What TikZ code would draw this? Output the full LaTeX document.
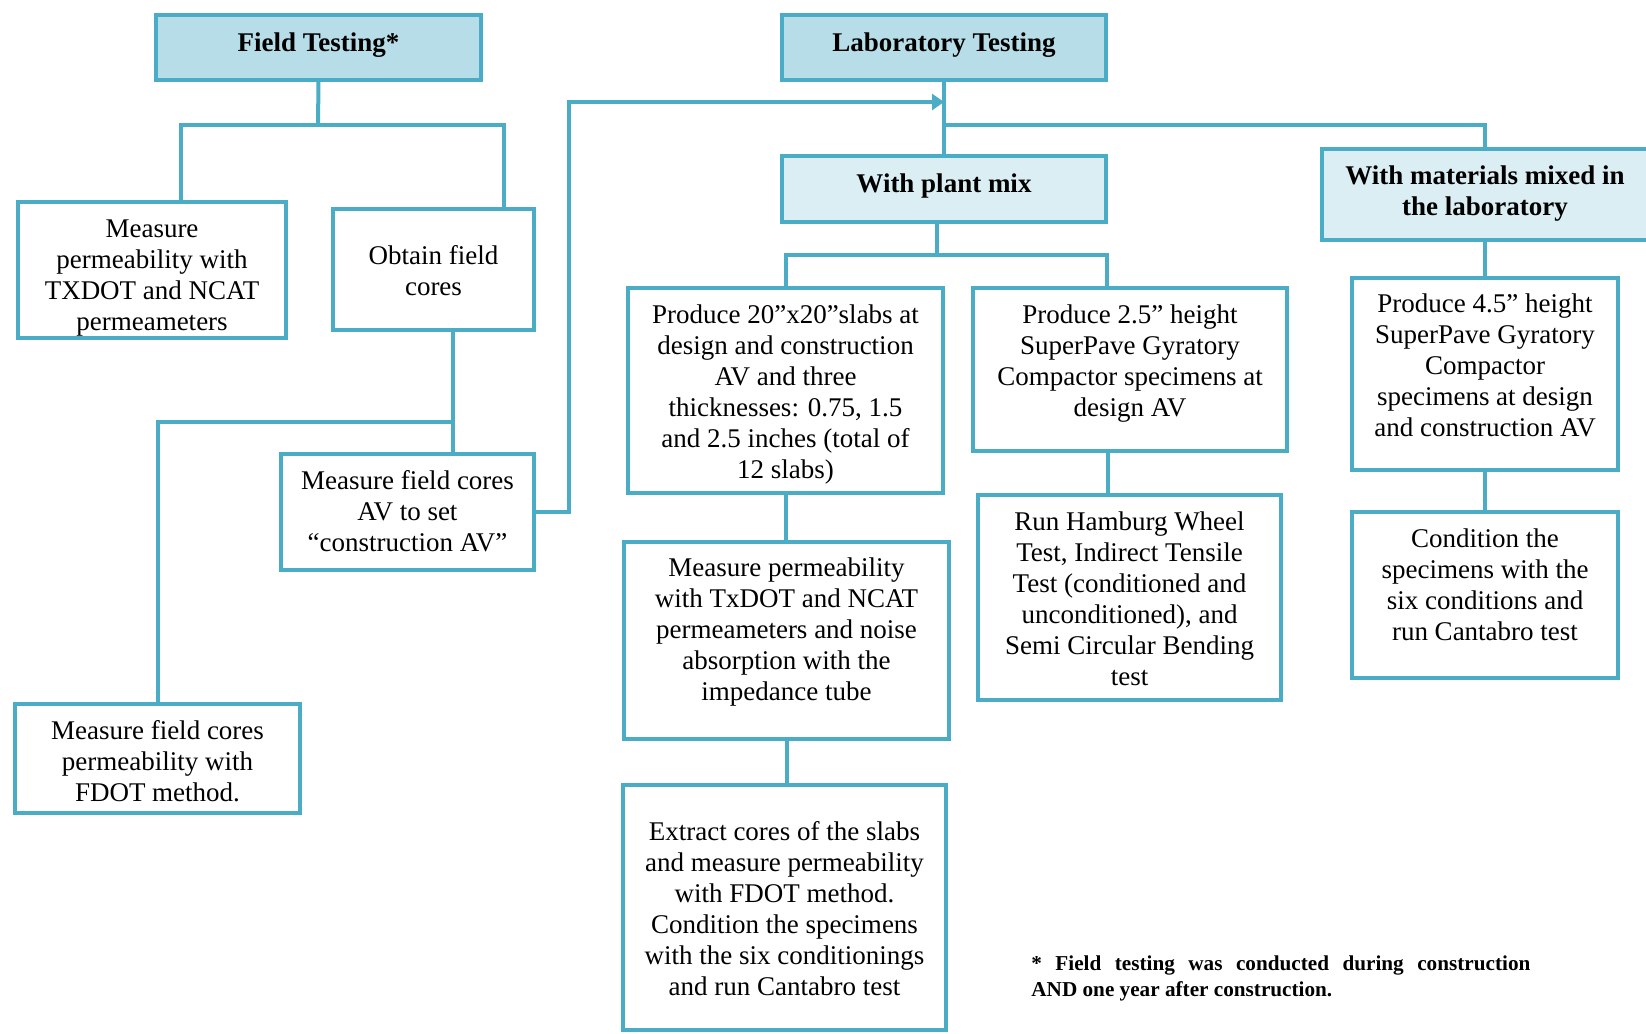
\documentclass[tikz,border=0pt]{standalone}
\usepackage{fontspec}
\setmainfont{Liberation Serif}
\usetikzlibrary{arrows.meta}
\definecolor{boxline}{HTML}{4BACC6}
\definecolor{headfill}{HTML}{B7DDE8}
\definecolor{subfill}{HTML}{DAEEF3}
\newcommand{\boxfont}{\fontsize{13.5}{15.5}\selectfont}

\begin{document}
\begin{tikzpicture}[x=0.5pt,y=-0.5pt,
    box/.style={draw=boxline, line width=2pt, fill=white, align=center, inner sep=0pt, font=\boxfont},
    head/.style={box, fill=headfill, font=\boxfont\bfseries},
    subhead/.style={box, fill=subfill, font=\boxfont\bfseries},
    tb/.style 2 args={text height=#1, text depth=#2},
    link/.style={draw=boxline, line width=2pt},
    arr/.style={-{Triangle[length=6pt,width=8pt]}}]
\useasboundingbox (0,0) rectangle (1646,1034);
% Field testing
\node[head, minimum width=162.5pt, tb={18pt}{14.5pt}] (field) at (318.5,47.5) {Field Testing*};
\node[box, minimum width=134pt, tb={64.4pt}{3.6pt}] (perm) at (152,270) {Measure\\permeability with\\TXDOT and NCAT\\permeameters};
\node[box, minimum width=100.5pt, tb={43pt}{17.5pt}] (obtain) at (433.5,269.5) {Obtain field\\cores};
\node[box, minimum width=126.5pt, tb={48.9pt}{9.1pt}] (av) at (407.5,512) {Measure field cores\\AV to set\\“construction AV”};
\node[box, minimum width=142.5pt, tb={48.9pt}{5.6pt}] (fdot) at (157.5,758.5) {Measure field cores\\permeability with\\FDOT method.};
% Laboratory testing
\node[head, minimum width=162pt, tb={18pt}{14.5pt}] (lab) at (944,47.5) {Laboratory Testing};
\node[subhead, minimum width=162pt, tb={18.35pt}{14.65pt}] (plant) at (944,189) {With plant mix};
\node[subhead, minimum width=163pt, tb={33.15pt}{12.35pt}] (mat) at (1485,194.5) {With materials mixed in\\the laboratory};
% plant mix
\node[box, minimum width=157.5pt, tb={95.4pt}{7.1pt}] (p20) at (785.5,390.5) {Produce 20”x20”slabs at\\design and construction\\AV and three\\thicknesses: 0.75, 1.5\\and 2.5 inches (total of\\12 slabs)};
\node[box, minimum width=162.5pt, tb={79.45pt}{19.05pt}] (txdot) at (786.5,640.5) {Measure permeability\\with TxDOT and NCAT\\permeameters and noise\\absorption with the\\impedance tube};
\node[box, minimum width=161.5pt, tb={105.2pt}{17.3pt}] (extract) at (784.5,907.5) {Extract cores of the slabs\\and measure permeability\\with FDOT method.\\Condition the specimens\\with the six conditionings\\and run Cantabro test};
\node[box, minimum width=157pt, tb={64.4pt}{17.1pt}] (p25) at (1130,369.5) {Produce 2.5” height\\SuperPave Gyratory\\Compactor specimens at\\design AV};
\node[box, minimum width=151.5pt, tb={95.4pt}{7.1pt}] (ham) at (1129.5,597.5) {Run Hamburg Wheel\\Test, Indirect Tensile\\Test (conditioned and\\unconditioned), and\\Semi Circular Bending\\test};
% lab mix
\node[box, minimum width=133pt, tb={79.2pt}{16.8pt}] (p45) at (1485,374) {Produce 4.5” height\\SuperPave Gyratory\\Compactor\\specimens at design\\and construction AV};
\node[box, minimum width=133pt, tb={64.25pt}{18.75pt}] (cond) at (1485,595) {Condition the\\specimens with the\\six conditions and\\run Cantabro test};
% note
\node[anchor=north west, text width=249.5pt, align=justify, inner sep=0pt,
      font=\fontsize{10.6}{13}\selectfont\bfseries] (note) at (1031,955)
  {* Field testing was conducted during construction\linebreak AND one year after construction.};

% connectors
\coordinate (fj) at (318,125);
\coordinate (oj) at (453,422);
\coordinate (aj) at (569,102);
\coordinate (lj) at (944,125);
\coordinate (pj) at (937,255);
\draw[link] (field.south) -- (fj);
\draw[link] ([xshift=14.5pt]perm.north) |- (fj) -| ([xshift=35.25pt]obtain.north);
\draw[link] ([xshift=9.75pt]obtain.south) -- (oj) -- (oj |- av.north);
\draw[link] (oj) -| (fdot.north);
\draw[link,arr] (av.east) -| (aj) -- (aj -| lab.south);
\draw[link] (lab.south) -- (plant.north);
\draw[link] (lj) -| (mat.north);
\draw[link] ([xshift=-3.5pt]plant.south) -- (pj);
\draw[link] (p20.north) |- (pj) -| ([xshift=-11.5pt]p25.north);
\draw[link] (p20.south) -- (p20.south |- txdot.north);
\draw[link] (txdot.south) -- (txdot.south |- extract.north);
\draw[link] ([xshift=-11pt]p25.south) -- ([xshift=-11pt]p25.south |- ham.north);
\draw[link] (mat.south) -- (p45.north);
\draw[link] (p45.south) -- (cond.north);
\end{tikzpicture}
\end{document}
